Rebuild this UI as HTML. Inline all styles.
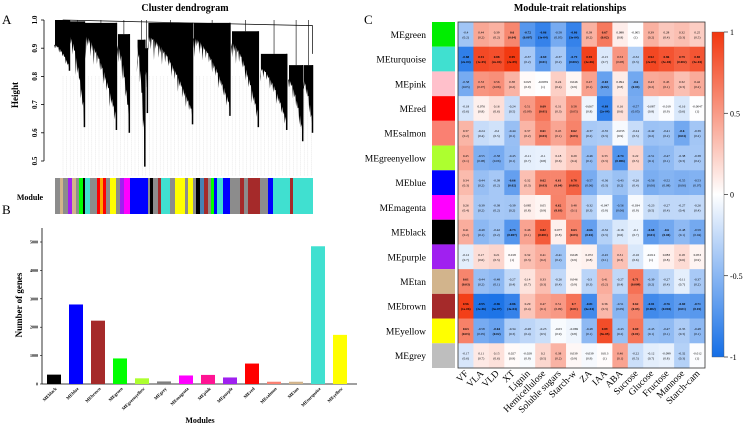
<!DOCTYPE html>
<html><head><meta charset="utf-8"><style>
html,body{margin:0;padding:0;background:#fff;}
svg{display:block;font-family:"Liberation Serif",serif;}
</style></head><body>
<svg id="fig" width="744" height="427" viewBox="0 0 744 427" xmlns="http://www.w3.org/2000/svg">
<g id="pa"></g>
<g id="pb"></g>
<g id="pc"></g>
</svg>
<script>
// ---------- data ----------
const dendroTicks = [1.0, 0.9, 0.8, 0.7, 0.6, 0.5];
const clusterStart = [0, 0.058, 0.116, 0.244, 0.32, 0.35, 0.362, 0.538, 0.686, 0.798, 0.907, 0.965];
const clusterEnd   = [0.058, 0.116, 0.24, 0.29, 0.35, 0.36, 0.535, 0.68, 0.79, 0.9, 0.962, 1.0];
const clusterTop   = [1.0, 0.995, 0.99, 0.95, 0.93, 0.9, 0.99, 0.99, 0.96, 0.88, 0.84, 0.84];
const clusterBottom= [0.82, 0.62, 0.61, 0.6, 0.48, 0.67, 0.63, 0.66, 0.62, 0.61, 0.57, 0.6];
const moduleSegStart = [0,5,8,13,17,21,24,28,30,35,42,45,48,51,55,61,65,69,75,93,95,98,103,106,115,120,130,133,138,141,145,149,153,156,159,162,168,175,185,189,193,205,213,218,235,238];
const moduleSegColor = ["#8c8c8c","#d2b48c","#8c8c8c","#a020f0","#d2b48c","#8c8c8c","#00ff00","#000","#40e0d0","#8c8c8c","#ff0000","#ffa500","#ff0000","#8c8c8c","#ffff00","#8c8c8c","#a020f0","#ff00ff","#0000ff","#8c8c8c","#000","#8c8c8c","#a52a2a","#40e0d0","#8c8c8c","#ffff00","#8c8c8c","#ffff00","#8c8c8c","#000","#4682b4","#a52a2a","#8c8c8c","#00ff00","#0000ff","#40e0d0","#0000ff","#8c8c8c","#a52a2a","#8c8c8c","#a52a2a","#8c8c8c","#0000ff","#40e0d0","#a52a2a","#40e0d0"];
// fixed jag pattern (relative spike depths) used for dendrogram fringe
const jagPattern = [0.0,0.35,0.1,0.6,0.2,0.45,0.05,0.8,0.3,0.15,0.55,0.25,0.7,0.1,0.4];

const barCats = ["MEblack","MEblue","MEbrown","MEgreen","MEgreenyellow","MEgrey","MEmagenta","MEpink","MEpurple","MEred","MEsalmon","MEtan","MEturquoise","MEyellow"];
const barVals = [330,2800,2230,900,200,90,300,320,230,720,80,80,4850,1730];
const barColors = ["#000000","#0000ff","#a52a2a","#00ff00","#adff2f","#808080","#ff00ff","#ff1493","#a020f0","#ff0000","#fa8072","#d2b48c","#40e0d0","#ffff00"];
const barTicks = [0,1000,2000,3000,4000,5000];

const traits = ["VF","VLA","VLD","XT","Lignin","Hemicellulose","Soluble sugars","Starch-w","ZA","IAA","ABA","Sucrose","Glucose","Fructose","Mannose","Starch-cam"];
const modules = ["MEgreen","MEturquoise","MEpink","MEred","MEsalmon","MEgreenyellow","MEblue","MEmagenta","MEblack","MEpurple","MEtan","MEbrown","MEyellow","MEgrey"];
const moduleColors = ["#00ee00","#40e0d0","#ffc0cb","#ff0000","#fa8072","#adff2f","#0000ff","#ff00ff","#000000","#a020f0","#d2b48c","#a52a2a","#ffff00","#bebebe"];
const corr = [
[-0.4,0.44,0.39,0.6,-0.72,-0.86,-0.58,-0.86,0.39,0.67,0.088,-0.005,0.39,0.28,0.32,0.25],
[-0.88,0.91,0.88,0.99,-0.37,-0.69,-0.37,-0.79,0.95,-0.15,0.53,-0.32,0.92,0.86,0.79,0.85],
[-0.58,0.53,0.56,0.38,0.025,-0.0059,0.24,0.046,0.47,-0.65,0.094,-0.6,0.43,0.45,0.32,0.42],
[-0.18,0.076,0.16,-0.24,0.51,0.69,0.31,0.58,-0.067,-0.88,0.16,-0.57,-0.087,-0.019,-0.16,-0.0047],
[0.37,-0.24,-0.2,-0.44,0.37,0.61,0.45,0.62,-0.37,-0.35,-0.033,-0.24,-0.42,-0.41,-0.6,-0.39],
[0.45,-0.55,-0.58,-0.45,-0.11,-0.1,0.18,0.29,-0.46,0.33,-0.74,0.22,-0.51,-0.47,-0.38,-0.38],
[0.34,-0.44,-0.38,-0.66,0.32,0.62,0.61,0.78,-0.57,-0.36,-0.43,-0.26,-0.56,-0.52,-0.55,-0.53],
[0.26,-0.39,-0.38,-0.39,0.085,0.05,0.62,0.48,-0.32,-0.047,-0.56,-0.034,-0.23,-0.27,-0.27,-0.26],
[0.41,-0.49,-0.42,-0.73,0.46,0.82,0.077,0.63,-0.66,-0.32,-0.16,-0.1,-0.68,-0.6,-0.48,-0.59],
[-0.12,0.17,0.21,0.018,0.32,0.41,-0.41,0.048,0.072,-0.45,0.31,-0.16,-0.012,0.083,0.18,0.053],
[0.61,-0.44,-0.48,-0.27,0.14,0.33,-0.26,0.046,-0.3,0.41,-0.27,0.71,-0.39,-0.27,-0.11,-0.37],
[0.96,-0.95,-0.96,-0.86,0.29,0.47,0.51,0.7,-0.81,0.36,-0.51,0.62,-0.81,-0.76,-0.69,-0.71],
[0.63,-0.58,-0.64,-0.34,-0.28,-0.23,-0.03,-0.069,-0.48,0.89,-0.43,0.69,-0.45,-0.47,-0.35,-0.48],
[-0.17,0.11,0.15,0.027,-0.028,0.2,0.38,0.039,-0.039,0.013,0.46,-0.22,-0.12,-0.099,-0.32,-0.012]];
const pvals = [
["0.2","0.2","0.2","0.04","0.007","3e-04","0.05","3e-04","0.2","0.02","0.8","1","0.2","0.4","0.3","0.5"],
["2e-04","1e-05","2e-04","2e-09","0.2","0.01","0.2","0.002","2e-06","0.7","0.08","0.3","2e-05","3e-04","0.002","5e-04"],
["0.05","0.07","0.06","0.2","0.9","1","0.4","0.9","0.1","0.02","0.8","0.04","0.2","0.1","0.3","0.2"],
["0.6","0.8","0.6","0.5","0.09","0.01","0.3","0.05","0.8","2e-04","0.6","0.05","0.8","0.9","0.6","1"],
["0.2","0.4","0.5","0.1","0.2","0.03","0.1","0.03","0.2","0.3","0.9","0.5","0.2","0.2","0.04","0.2"],
["0.1","0.08","0.06","0.1","0.7","0.8","0.6","0.4","0.1","0.3","0.006","0.5","0.1","0.1","0.3","0.2"],
["0.3","0.2","0.2","0.02","0.3","0.03","0.04","0.003","0.06","0.3","0.2","0.4","0.06","0.08","0.06","0.07"],
["0.4","0.2","0.2","0.2","0.8","0.9","0.03","0.1","0.3","0.9","0.06","0.9","0.5","0.4","0.4","0.4"],
["0.2","0.1","0.2","0.007","0.1","0.001","0.8","0.03","0.02","0.3","0.6","0.7","0.01","0.04","0.1","0.04"],
["0.7","0.6","0.5","1","0.3","0.2","0.2","0.9","0.8","0.1","0.3","0.6","1","0.8","0.6","0.9"],
["0.03","0.2","0.1","0.4","0.7","0.3","0.4","0.9","0.3","0.2","0.4","0.009","0.2","0.4","0.7","0.2"],
["1e-06","2e-06","3e-07","4e-04","0.4","0.1","0.09","0.01","6e-04","0.3","0.09","0.03","0.002","0.004","0.01","0.01"],
["0.03","0.05","0.02","0.3","0.4","0.5","0.9","0.8","0.1","9e-05","0.2","0.01","0.1","0.1","0.3","0.1"],
["0.6","0.7","0.6","0.9","0.9","0.5","0.2","0.9","0.9","1","0.1","0.5","0.7","0.8","0.3","1"]];
const cbTicks = [1,0.5,0,-0.5,-1];

// ---------- helpers ----------
const NS = "http://www.w3.org/2000/svg";
function mk(parent, tag, attrs, text){
  const e = document.createElementNS(NS, tag);
  for (const k in attrs) e.setAttribute(k, attrs[k]);
  if (text !== undefined) e.textContent = text;
  parent.appendChild(e);
  return e;
}
function txt(parent, x, y, s, size, opts){
  opts = opts || {};
  const e = mk(parent, "text", {x:x, y:y, "font-size":size, "text-anchor":opts.anchor||"start",
    "font-weight":opts.bold?"bold":"normal", fill:opts.fill||"#000"}, s);
  if (opts.rot !== undefined) e.setAttribute("transform", "rotate(" + opts.rot + " " + x + " " + y + ")");
  return e;
}

// ---------- Panel A ----------
const pa = document.getElementById("pa");
const ax0 = 55, ax1 = 313;
const yH = h => 20 + (1 - h) / 0.1 * 28.2;
const xF = f => ax0 + f * (ax1 - ax0);
let t;
t = txt(pa, 185, 11, "Cluster dendrogram", 10, {anchor:"middle", bold:true});


t = txt(pa, 2, 24, "A", 13);


t = txt(pa, 18, 95, "Height", 9, {anchor:"middle", bold:true, rot:-90});


let ln = mk(pa, "line", {x1:44, x2:44, y1:yH(1.0), y2:yH(0.5), stroke:"#000", "stroke-width":0.8});


dendroTicks.forEach(v => {
  const y = yH(v);
  const tk = mk(pa, "line", {x1:41, x2:44, y1:y, y2:y, stroke:"#000", "stroke-width":0.8});
  
  
  const l = txt(pa, 37, y, v.toFixed(1), 7, {anchor:"middle", bold:true, rot:-90});
  
  
});
for (let i = 0; i < 70; i++) {
  const x = ax0 + 8 + i * 3.6;
  const g = mk(pa, "line", {x1:x, x2:x, y1:yH(0.8), y2:176, stroke:"#ccc", "stroke-width":0.4, "stroke-dasharray":"1,1"});
  
  
}
clusterStart.forEach((s, i) => {
  const x0 = xF(s), x1 = xF(clusterEnd[i]);
  const yt = yH(clusterTop[i]), yb = yH(clusterBottom[i]);
  const yStart = yH(Math.min(clusterTop[i] - 0.08, 0.9));
  const w = x1 - x0;
  const n = Math.max(3, Math.round(w / 1.6));
  let d = `M${x0},${yt} L${x1},${yt} L${x1},${yb}`;
  for (let k = n; k >= 0; k--) {
    const f = k / n;
    const base = yStart + (yb - yStart) * Math.pow(f, 1.6);
    const jag = jagPattern[(k + i * 3) % jagPattern.length] * (yb - yStart) * 0.35 * (1 - f * 0.5);
    const x = x0 + f * w;
    d += ` L${x},${base - (yb - yStart) * 0.15} L${x - w / n * 0.5},${base + jag - (yb - yStart) * 0.15}`;
  }
  d += ` L${x0},${yStart} Z`;
  const p = mk(pa, "path", {d:d, fill:"#000"});
  
  
  const tail = mk(pa, "line", {x1:x1 - 0.5, x2:x1 - 0.5, y1:yt, y2:yb, stroke:"#000", "stroke-width":1.5});
  
  
  const m = mk(pa, "line", {x1:(x0+x1)/2, x2:(x0+x1)/2, y1:yH(1.0), y2:yt, stroke:"#000", "stroke-width":0.6});
  
  
});
ln = mk(pa, "path", {d:`M${xF(0.03)},${yH(1.0)} L${xF(0.5)},${yH(0.99)} L${xF(0.998)},${yH(0.98)} L${xF(0.998)},${yH(0.88)}`, fill:"none", stroke:"#000", "stroke-width":0.7});


moduleSegStart.forEach((s, i) => {
  const e = i + 1 < moduleSegStart.length ? moduleSegStart[i+1] : 258;
  const r = mk(pa, "rect", {x:ax0 + s, y:178, width:e - s, height:36, fill:moduleSegColor[i]});
  
  
});
t = txt(pa, 30, 200, "Module", 8, {anchor:"middle", bold:true});



// ---------- Panel B ----------
const pb = document.getElementById("pb");
const bx0 = 42, bx1 = 357, by0 = 384, byTop = 228;
const yB = v => by0 - v / 1000 * 28.4;
const xB = i => 54 + i * 22;
t = txt(pb, 2, 214, "B", 13);


ln = mk(pb, "line", {x1:bx0, x2:bx0, y1:byTop, y2:by0, stroke:"#000", "stroke-width":0.8});


ln = mk(pb, "line", {x1:bx0, x2:bx1, y1:by0, y2:by0, stroke:"#000", "stroke-width":0.8});


barTicks.forEach(v => {
  const y = yB(v);
  const tk = mk(pb, "line", {x1:bx0 - 2, x2:bx0, y1:y, y2:y, stroke:"#000", "stroke-width":0.6});
  
  
  const l = txt(pb, bx0 - 4, y + 1.5, String(v), 4, {anchor:"end", bold:true});
  
  
});
barVals.forEach((v, i) => {
  const r = mk(pb, "rect", {x:xB(i) - 7, y:yB(v), width:14, height:by0 - yB(v), fill:barColors[i]});
  
  
  const l = txt(pb, xB(i) + 3, by0 + 5, barCats[i], 4.5, {anchor:"end", bold:true, rot:-45});
  
  
});
t = txt(pb, 22, 305, "Number of genes", 9, {anchor:"middle", bold:true, rot:-90});


t = txt(pb, 200, 423, "Modules", 8, {anchor:"middle", bold:true});



// ---------- Panel C ----------
const pc = document.getElementById("pc");
const hx0 = 458, hx1 = 705, hy0 = 22, hy1 = 368;
const cw = (hx1 - hx0) / traits.length, rh = (hy1 - hy0) / modules.length;
function colorOf(r){
  const a = Math.min(1, Math.abs(r));
  const c = r >= 0 ? [242,55,15] : [20,110,230];
  const m = i => Math.round(255 + (c[i] - 255) * a);
  return `rgb(${m(0)},${m(1)},${m(2)})`;
}
t = txt(pc, 570, 11, "Module-trait relationships", 10, {anchor:"middle", bold:true});


t = txt(pc, 364, 24, "C", 13);


modules.forEach((m, i) => {
  const y = hy0 + i * rh;
  const s = mk(pc, "rect", {x:432, y:y, width:23, height:rh, fill:moduleColors[i]});
  
  
  const l = txt(pc, 426, y + rh/2 + 3.5, m, 9.5, {anchor:"end"});
  
  
  traits.forEach((tr, j) => {
    const x = hx0 + j * cw, r = corr[i][j];
    const c = mk(pc, "rect", {x:x, y:y, width:cw + 0.3, height:rh + 0.3, fill:colorOf(r)});
    
    
    const b = Math.abs(r) >= 0.6;
    const a = txt(pc, x + cw/2, y + rh/2 - 1, String(r), 3.3, {anchor:"middle", bold:b});
    
    
    const p = txt(pc, x + cw/2, y + rh/2 + 4, "(" + pvals[i][j] + ")", 3.3, {anchor:"middle", bold:b});
    
    
  });
});
ln = mk(pc, "rect", {x:hx0, y:hy0, width:hx1 - hx0, height:hy1 - hy0, fill:"none", stroke:"#333", "stroke-width":0.8});


traits.forEach((tr, j) => {
  const x = hx0 + j * cw + cw/2 + 3;
  const l = txt(pc, x, 374, tr, 9.5, {anchor:"end", rot:-45});
  
  
});
const defs = mk(pc, "defs", {});
const lg = mk(defs, "linearGradient", {id:"cbg", x1:0, y1:0, x2:0, y2:1});
[1, 0, -1].forEach((v, k) => mk(lg, "stop", {offset:(k*50)+"%", "stop-color":colorOf(v)}));
const cby0 = 32, cby1 = 357;
const yC = v => cby0 + (1 - v) / 2 * (cby1 - cby0);
ln = mk(pc, "rect", {x:712, y:cby0, width:12, height:cby1 - cby0, fill:"url(#cbg)", stroke:"#555", "stroke-width":0.4});


cbTicks.forEach(v => {
  const y = yC(v);
  const tk = mk(pc, "line", {x1:724, x2:728, y1:y, y2:y, stroke:"#000", "stroke-width":0.6});
  
  
  const l = txt(pc, 730, y + 3, String(v), 8);
  
  
});
</script>
</body></html>
